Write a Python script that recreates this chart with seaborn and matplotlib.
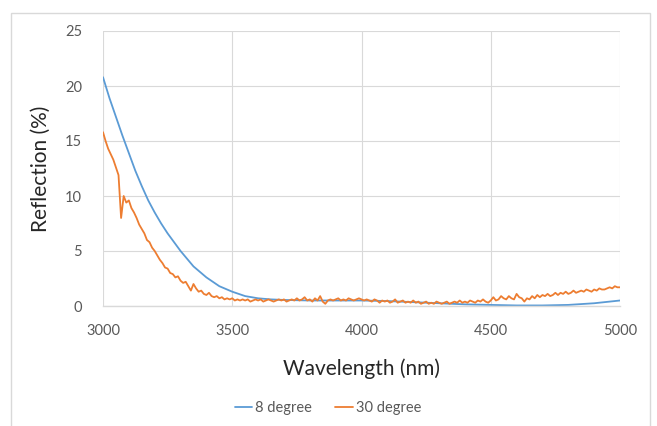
import numpy as np
import pandas as pd
import matplotlib
matplotlib.use("Agg")
import matplotlib.pyplot as plt
import seaborn as sns
from matplotlib.patches import Rectangle

# ---- data ----
wl_8 = [3000, 3025, 3050, 3075, 3100, 3125, 3150, 3175, 3200, 3225, 3250, 3275, 3300,
        3325, 3350, 3375, 3400, 3450, 3500, 3550, 3600, 3650, 3700, 3800, 3900, 4000,
        4100, 4200, 4300, 4400, 4500, 4600, 4700, 4800, 4900, 5000]
refl_8 = [20.8, 18.9, 17.2, 15.5, 13.9, 12.3, 10.9, 9.6, 8.5, 7.5, 6.6, 5.8, 5.0,
          4.3, 3.6, 3.1, 2.6, 1.8, 1.3, 0.9, 0.7, 0.6, 0.55, 0.5, 0.5, 0.5,
          0.45, 0.35, 0.25, 0.15, 0.1, 0.05, 0.05, 0.1, 0.25, 0.5]

wl_30 = list(range(3000, 5001, 10))
refl_30 = [15.8, 15.0, 14.3, 13.8, 13.3, 12.6, 11.9, 8.0, 10.0, 9.4,
           9.6, 8.9, 8.5, 8.0, 7.4, 7.0, 6.6, 6.0, 5.8, 5.3,
           5.0, 4.6, 4.2, 3.9, 3.5, 3.4, 3.0, 2.9, 2.6, 2.7,
           2.3, 2.1, 2.2, 1.8, 1.4, 2.0, 1.6, 1.3, 1.4, 1.1,
           1.0, 1.2, 0.9, 0.8, 0.9, 0.7, 0.8, 0.6, 0.7, 0.6,
           0.7, 0.5, 0.6, 0.5, 0.6, 0.5, 0.6, 0.4, 0.5, 0.6,
           0.5, 0.6, 0.4, 0.5, 0.6, 0.5, 0.4, 0.5, 0.6, 0.5,
           0.6, 0.4, 0.5, 0.6, 0.5, 0.7, 0.5, 0.6, 0.8, 0.5,
           0.6, 0.4, 0.7, 0.5, 0.9, 0.4, 0.2, 0.5, 0.6, 0.5,
           0.6, 0.7, 0.5, 0.6, 0.5, 0.7, 0.6, 0.5, 0.6, 0.7,
           0.6, 0.5, 0.6, 0.5, 0.4, 0.6, 0.5, 0.3, 0.5, 0.4,
           0.5, 0.3, 0.4, 0.6, 0.3, 0.4, 0.5, 0.3, 0.4, 0.3,
           0.5, 0.3, 0.4, 0.2, 0.3, 0.4, 0.2, 0.3, 0.2, 0.4,
           0.3, 0.2, 0.3, 0.4, 0.2, 0.3, 0.4, 0.3, 0.5, 0.3,
           0.4, 0.3, 0.5, 0.4, 0.3, 0.5, 0.4, 0.6, 0.4, 0.3,
           0.5, 0.8, 0.5, 0.6, 0.9, 0.7, 0.6, 0.9, 0.7, 0.6,
           1.1, 0.8, 0.7, 0.4, 0.7, 0.6, 0.9, 0.7, 1.0, 0.8,
           1.0, 0.9, 1.1, 0.9, 1.0, 1.2, 1.0, 1.2, 1.1, 1.3,
           1.1, 1.2, 1.4, 1.2, 1.3, 1.4, 1.3, 1.5, 1.4, 1.3,
           1.5, 1.4, 1.6, 1.5, 1.5, 1.6, 1.7, 1.6, 1.8, 1.7,
           1.7]

series_names = ["8 degree", "30 degree"]
x_ticks = [3000, 3500, 4000, 4500, 5000]
y_ticks = [0, 5, 10, 15, 20, 25]

df = pd.concat([
    pd.DataFrame({"Wavelength": wl_8, "Reflection": refl_8, "Series": series_names[0]}),
    pd.DataFrame({"Wavelength": wl_30, "Reflection": refl_30, "Series": series_names[1]}),
], ignore_index=True)

# ---- style ----
sns.set_theme(style="white")
plt.rcParams["font.family"] = ["Lato", "DejaVu Sans"]

fig = plt.figure(figsize=(6.57, 4.26), dpi=100)
ax = fig.add_axes([103 / 657, 1 - 306 / 426, (620 - 103) / 657, (306 - 31) / 426])

# outer chart frame
fig.patches.append(Rectangle((11 / 657, -0.05), (650 - 11) / 657, 1.05 - 13 / 426,
                             transform=fig.transFigure, fill=False,
                             edgecolor="#D9D9D9", linewidth=1.0))

palette = {"8 degree": "#5B9BD5", "30 degree": "#ED7D31"}
sns.lineplot(data=df, x="Wavelength", y="Reflection", hue="Series",
             palette=palette, linewidth=1.3, ax=ax, estimator=None, sort=False)

ax.set_xlim(3000, 5000)
ax.set_ylim(0, 25)
ax.set_xticks(x_ticks)
ax.set_yticks(y_ticks)
ax.grid(True, color="#D9D9D9", linewidth=0.8)
ax.set_axisbelow(True)
for s in ["top", "right", "left"]:
    ax.spines[s].set_visible(False)
ax.spines["bottom"].set_color("#D9D9D9")
ax.spines["bottom"].set_linewidth(1.0)
ax.tick_params(axis="x", length=0, labelsize=10.5, colors="#595959", pad=13)
ax.tick_params(axis="y", length=0, labelsize=10.5, colors="#595959", pad=15)

ax.set_xlabel("Wavelength (nm)", fontsize=15, color="#262626", labelpad=15)
ax.set_ylabel("Reflection (%)", fontsize=15, color="#262626", labelpad=10)

ax.legend(loc="center", bbox_to_anchor=(328 / 657, 1 - 408 / 426),
          bbox_transform=fig.transFigure, ncol=2, frameon=False,
          fontsize=10.5, handlelength=1.2, handletextpad=0.2, columnspacing=1.6,
          labelcolor="#595959")

fig.savefig("out.png", dpi=100, facecolor="white")
